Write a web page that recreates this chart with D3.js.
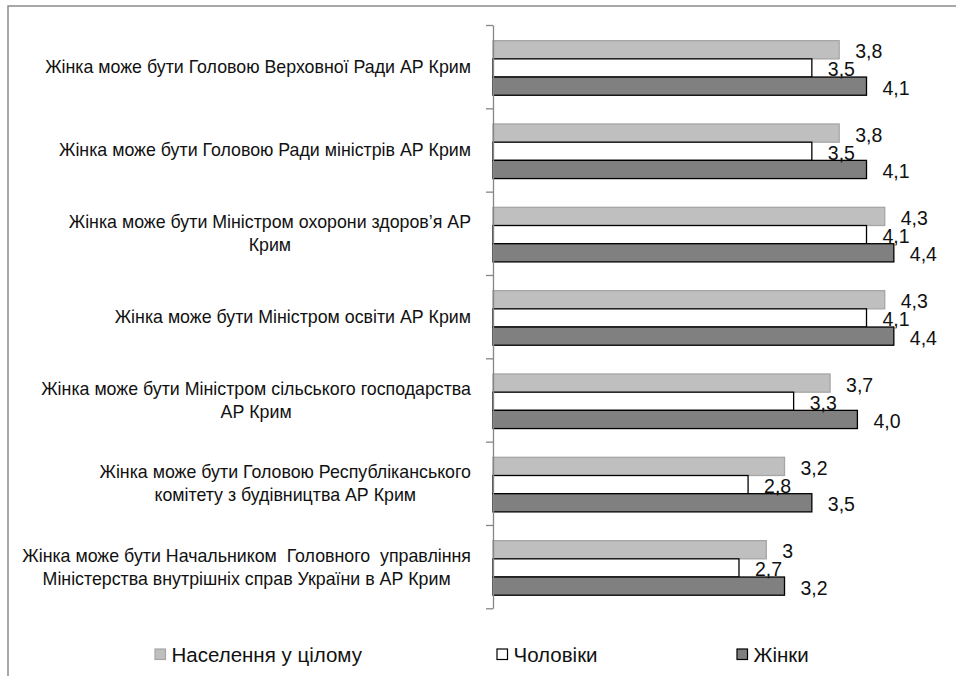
<!DOCTYPE html>
<html>
<head>
<meta charset="utf-8">
<script src="https://cdn.jsdelivr.net/npm/d3@7"></script>
<style>
  html, body { margin: 0; padding: 0; background: #fff; }
  svg { display: block; font-family: "Liberation Sans", Arial, sans-serif; }
  text { white-space: pre; }
</style>
</head>
<body>
<svg id="chart" width="956" height="676"></svg>
<script>
// ---- data ----
const categories = [
  "Жінка може бути Головою Верховної Ради АР Крим",
  "Жінка може бути Головою Ради міністрів АР Крим",
  "Жінка може бути Міністром охорони здоров’я АР\nКрим",
  "Жінка може бути Міністром освіти АР Крим",
  "Жінка може бути Міністром сільського господарства\nАР Крим",
  "Жінка може бути Головою Республіканського\nкомітету з будівництва АР Крим",
  "Жінка може бути Начальником  Головного  управління\nМіністерства внутрішніх справ України в АР Крим"
];
const seriesNames = ["Населення у цілому", "Чоловіки", "Жінки"];
const population = [3.8, 3.8, 4.3, 4.3, 3.7, 3.2, 3.0];
const men        = [3.5, 3.5, 4.1, 4.1, 3.3, 2.8, 2.7];
const women      = [4.1, 4.1, 4.4, 4.4, 4.0, 3.5, 3.2];
const populationLabels = ["3,8", "3,8", "4,3", "4,3", "3,7", "3,2", "3"];
const menLabels        = ["3,5", "3,5", "4,1", "4,1", "3,3", "2,8", "2,7"];
const womenLabels      = ["4,1", "4,1", "4,4", "4,4", "4,0", "3,5", "3,2"];

const seriesValues = [population, men, women];
const seriesLabels = [populationLabels, menLabels, womenLabels];
const fills   = ["#BFBFBF", "#FFFFFF", "#808080"];
const strokes = ["#A6A6A6", "#000000", "#000000"];

// ---- layout ----
const svg = d3.select("#chart");
const axisX = 493, plotTop = 25, plotBottom = 608.3;

// outer border
svg.append("rect")
  .attr("x", 8).attr("y", 6).attr("width", 960).attr("height", 700)
  .attr("fill", "none").attr("stroke", "#8C8C8C").attr("stroke-width", 1.5);

const x = d3.scaleLinear().domain([0, 5]).range([axisX, axisX + 455.5]);
const y = d3.scaleBand().domain(d3.range(categories.length)).range([plotTop, plotBottom]).padding(0);
const bw = y.bandwidth();
const ySub = d3.scaleBand().domain(d3.range(3)).range([bw * 0.188, bw * 0.843]).padding(0);

// bars
const table = [];
categories.forEach((c, i) => {
  seriesValues.forEach((vals, s) => {
    table.push({ cat: i, s, v: vals[i], label: seriesLabels[s][i] });
  });
});

svg.append("g").selectAll("rect")
  .data(table)
  .join("rect")
  .attr("x", x(0))
  .attr("y", d => y(d.cat) + ySub(d.s))
  .attr("width", d => x(d.v) - x(0))
  .attr("height", ySub.bandwidth())
  .attr("fill", d => fills[d.s])
  .attr("stroke", d => strokes[d.s])
  .attr("stroke-width", 1.3);

// value labels
svg.append("g").selectAll("text")
  .data(table)
  .join("text")
  .attr("x", d => x(d.v) + 16)
  .attr("y", d => y(d.cat) + ySub(d.s) + ySub.bandwidth() / 2 + 8.5)
  .attr("font-size", 19.5)
  .attr("fill", "#111")
  .text(d => d.label);

// category axis (ticks at band boundaries)
const yB = d3.scaleLinear().domain([0, categories.length]).range([plotTop, plotBottom]);
const axisG = svg.append("g")
  .attr("transform", `translate(${axisX},0)`)
  .call(d3.axisLeft(yB).tickValues(d3.range(categories.length + 1)).tickFormat("").tickSize(7).tickSizeOuter(0));
axisG.selectAll("path, line").attr("stroke", "#868686").attr("stroke-width", 1.3);

// category labels
const labelRight = 471, lineH = 23;
const labG = svg.append("g").attr("font-size", 17.8).attr("fill", "#111");
categories.forEach((c, i) => {
  const lines = c.split("\n");
  const g = labG.append("g");
  const cy = y(i) + bw / 2;
  const texts = lines.map((ln, k) => g.append("text")
      .attr("text-anchor", "middle")
      .attr("y", cy + (k - (lines.length - 1) / 2) * lineH + 6.5)
      .text(ln));
  const maxW = d3.max(texts, t => t.node().getComputedTextLength());
  texts.forEach(t => t.attr("x", labelRight - maxW / 2));
});

// legend
const legendX = [155, 497, 737];
const legG = svg.append("g");
seriesNames.forEach((n, s) => {
  legG.append("rect")
    .attr("x", legendX[s]).attr("y", 649).attr("width", 10.5).attr("height", 10.5)
    .attr("fill", fills[s]).attr("stroke", s === 0 ? "#A6A6A6" : "#000").attr("stroke-width", 1.2);
  legG.append("text")
    .attr("x", legendX[s] + 16.5).attr("y", 662)
    .attr("font-size", 20.5).attr("fill", "#111")
    .text(n);
});
</script>
</body>
</html>
